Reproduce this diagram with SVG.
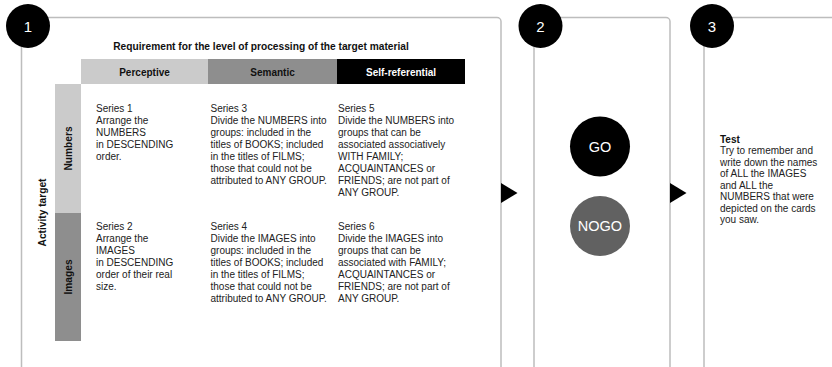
<svg xmlns="http://www.w3.org/2000/svg" width="832" height="367" viewBox="0 0 832 367">
<style>
  .frame{fill:none;stroke:#bdbdbd;stroke-width:1.5}
  .badge{fill:#000}
  .badgeText{font-family:"Liberation Sans",Arial,sans-serif;font-size:15px;fill:#fff;text-anchor:middle}
  .body{font-family:"Liberation Sans",Arial,sans-serif;font-size:10px;fill:#222}
  .bold{font-family:"Liberation Sans",Arial,sans-serif;font-size:10.2px;font-weight:bold;fill:#111}
  .hdr{font-family:"Liberation Sans",Arial,sans-serif;font-size:10px;font-weight:bold;text-anchor:middle}
  .big{font-family:"Liberation Sans",Arial,sans-serif;font-size:14.5px;fill:#fff;text-anchor:middle}
  .arrow{fill:#000}
</style>
<rect width="832" height="367" fill="#fff"/>

<g id="panel1">
  <path class="frame" d="M21.5 370 V21.5 A4 4 0 0 1 25.5 17.5 H497 A4 4 0 0 1 501 21.5 V370"/>
  <circle class="badge" cx="28" cy="26" r="22"/>
  <text class="badgeText" x="28" y="31.5">1</text>
</g>

<g id="panel2">
  <path class="frame" d="M534 370 V21.5 A4 4 0 0 1 538 17.5 H666 A4 4 0 0 1 670 21.5 V370"/>
  <circle class="badge" cx="540.5" cy="26" r="22"/>
  <text class="badgeText" x="540.5" y="31.5">2</text>
</g>

<g id="panel3">
  <path class="frame" d="M704 370 V21.5 A4 4 0 0 1 708 17.5 H840"/>
  <circle class="badge" cx="712" cy="26" r="22"/>
  <text class="badgeText" x="712" y="31.5">3</text>
</g>

<g id="table-title">
  <text class="bold" x="261" y="49.5" text-anchor="middle">Requirement for the level of processing of the target material</text>
</g>

<g id="col-perceptive">
  <rect x="81" y="59" width="127" height="25" fill="#cbcbcb"/>
  <text class="hdr" x="144.5" y="75.5" fill="#111">Perceptive</text>
</g>
<g id="col-semantic">
  <rect x="208" y="59" width="129" height="25" fill="#8e8e8e"/>
  <text class="hdr" x="272.5" y="75.5" fill="#111">Semantic</text>
</g>
<g id="col-selfref">
  <rect x="337" y="59" width="128" height="25" fill="#000"/>
  <text class="hdr" x="401" y="75.5" fill="#fff">Self-referential</text>
</g>

<g id="activity-target">
  <text class="bold" transform="translate(46,212.5) rotate(-90)" text-anchor="middle">Activity target</text>
</g>
<g id="row-numbers">
  <rect x="55" y="84" width="26" height="129" fill="#cbcbcb"/>
  <text class="bold" transform="translate(71.5,148.5) rotate(-90)" text-anchor="middle">Numbers</text>
</g>
<g id="row-images">
  <rect x="55" y="213" width="26" height="128" fill="#8e8e8e"/>
  <text class="bold" transform="translate(71.5,277) rotate(-90)" text-anchor="middle">Images</text>
</g>

<g id="series1">
  <text class="body" x="96" y="112.3"><tspan x="96">Series 1</tspan><tspan x="96" dy="11.9">Arrange the</tspan><tspan x="96" dy="11.9">NUMBERS</tspan><tspan x="96" dy="11.9">in DESCENDING</tspan><tspan x="96" dy="11.9">order.</tspan></text>
</g>
<g id="series3">
  <text class="body" x="210.5" y="112.3"><tspan x="210.5">Series 3</tspan><tspan x="210.5" dy="11.9">Divide the NUMBERS into</tspan><tspan x="210.5" dy="11.9">groups: included in the</tspan><tspan x="210.5" dy="11.9">titles of BOOKS; included</tspan><tspan x="210.5" dy="11.9">in the titles of FILMS;</tspan><tspan x="210.5" dy="11.9">those that could not be</tspan><tspan x="210.5" dy="11.9">attributed to ANY GROUP.</tspan></text>
</g>
<g id="series5">
  <text class="body" x="338" y="112.3"><tspan x="338">Series 5</tspan><tspan x="338" dy="11.9">Divide the NUMBERS into</tspan><tspan x="338" dy="11.9">groups that can be</tspan><tspan x="338" dy="11.9">associated associatively</tspan><tspan x="338" dy="11.9">WITH FAMILY;</tspan><tspan x="338" dy="11.9">ACQUAINTANCES or</tspan><tspan x="338" dy="11.9">FRIENDS; are not part of</tspan><tspan x="338" dy="11.9">ANY GROUP.</tspan></text>
</g>
<g id="series2">
  <text class="body" x="96" y="229.5"><tspan x="96">Series 2</tspan><tspan x="96" dy="12">Arrange the</tspan><tspan x="96" dy="12">IMAGES</tspan><tspan x="96" dy="12">in DESCENDING</tspan><tspan x="96" dy="12">order of their real</tspan><tspan x="96" dy="12">size.</tspan></text>
</g>
<g id="series4">
  <text class="body" x="210.5" y="229.5"><tspan x="210.5">Series 4</tspan><tspan x="210.5" dy="12">Divide the IMAGES into</tspan><tspan x="210.5" dy="12">groups: included in the</tspan><tspan x="210.5" dy="12">titles of BOOKS; included</tspan><tspan x="210.5" dy="12">in the titles of FILMS;</tspan><tspan x="210.5" dy="12">those that could not be</tspan><tspan x="210.5" dy="12">attributed to ANY GROUP.</tspan></text>
</g>
<g id="series6">
  <text class="body" x="338" y="229.5"><tspan x="338">Series 6</tspan><tspan x="338" dy="12">Divide the IMAGES into</tspan><tspan x="338" dy="12">groups that can be</tspan><tspan x="338" dy="12">associated with FAMILY;</tspan><tspan x="338" dy="12">ACQUAINTANCES or</tspan><tspan x="338" dy="12">FRIENDS; are not part of</tspan><tspan x="338" dy="12">ANY GROUP.</tspan></text>
</g>

<g id="go">
  <circle cx="600" cy="146.5" r="30" fill="#000"/>
  <text class="big" x="600" y="151.8">GO</text>
</g>
<g id="nogo">
  <circle cx="600" cy="226" r="30" fill="#616161"/>
  <text class="big" x="600" y="231.3">NOGO</text>
</g>

<g id="test">
  <text class="body" x="720" y="142.5"><tspan x="720" font-weight="bold" fill="#111">Test</tspan><tspan x="720" dy="11.55">Try to remember and</tspan><tspan x="720" dy="11.55">write down the names</tspan><tspan x="720" dy="11.55">of ALL the IMAGES</tspan><tspan x="720" dy="11.55">and ALL the</tspan><tspan x="720" dy="11.55">NUMBERS that were</tspan><tspan x="720" dy="11.55">depicted on the cards</tspan><tspan x="720" dy="11.55">you saw.</tspan></text>
</g>

<g id="connectors">
  <polygon class="arrow" points="501,183 517.5,193 501,203"/>
  <polygon class="arrow" points="670,183 686.5,193 670,203"/>
</g>
</svg>
